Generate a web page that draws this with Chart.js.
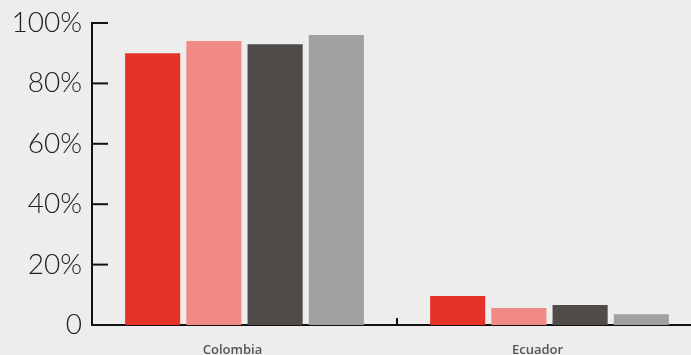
<!DOCTYPE html>
<html>
<head>
<meta charset="utf-8">
<script src="https://cdn.jsdelivr.net/npm/chart.js@4"></script>
<style>
  html, body { margin: 0; padding: 0; background: #ededed; overflow: hidden; }
  #wrap { position: relative; width: 702px; height: 355px; }
</style>
</head>
<body>
<div id="wrap"><canvas id="chart"></canvas></div>
<script>
// data
const categories = ['Colombia', 'Ecuador'];
const seriesA = [90, 9.6];
const seriesB = [94, 5.6];
const seriesC = [93, 6.6];
const seriesD = [96, 3.6];
const yTickLabels = ['0', '20%', '40%', '60%', '80%', '100%'];

const colors = ['#e5332a', '#f18a84', '#4f4b48', '#a2a09e'];

// tick marks that point inward, plus category separators on the x axis
const innerTicks = {
  id: 'innerTicks',
  afterDraw(chart) {
    const ctx = chart.ctx;
    const y = chart.scales.y;
    const x = chart.scales.x;
    const area = chart.chartArea;
    ctx.save();
    ctx.strokeStyle = '#111';
    ctx.lineWidth = 2;
    y.ticks.forEach(t => {
      const py = y.getPixelForValue(t.value);
      ctx.beginPath();
      ctx.moveTo(area.left, py);
      ctx.lineTo(area.left + 16, py);
      ctx.stroke();
    });
    const half = (x.getPixelForValue(1) - x.getPixelForValue(0)) / 2;
    for (let i = 0; i < categories.length; i++) {
      const px = Math.round(x.getPixelForValue(i) + half);
      ctx.beginPath();
      ctx.moveTo(px, area.bottom);
      ctx.lineTo(px, area.bottom - 7);
      ctx.stroke();
    }
    ctx.restore();
  }
};

new Chart(document.getElementById('chart'), {
  type: 'bar',
  data: {
    labels: categories,
    datasets: [
      { data: seriesA, backgroundColor: colors[0] },
      { data: seriesB, backgroundColor: colors[1] },
      { data: seriesC, backgroundColor: colors[2] },
      { data: seriesD, backgroundColor: colors[3] }
    ]
  },
  options: {
    responsive: true,
    maintainAspectRatio: false,
    animation: false,
    layout: { padding: { top: 23, right: 0, left: 0, bottom: 0 } },
    datasets: { bar: { categoryPercentage: 0.803, barPercentage: 0.9 } },
    plugins: { legend: { display: false }, tooltip: { enabled: false } },
    scales: {
      x: {
        grid: { display: false, drawTicks: false },
        border: { display: true, color: '#111', width: 2 },
        ticks: {
          color: '#555',
          font: { family: 'Open Sans', size: 13, weight: 600 },
          padding: 17,
          labelOffset: -12
        },
        afterFit(scale) { scale.height = 30; }
      },
      y: {
        min: 0,
        max: 100,
        grid: { display: false, drawTicks: false },
        border: { display: true, color: '#111', width: 2 },
        ticks: {
          stepSize: 20,
          color: '#222',
          padding: 10,
          font: { family: 'Lato', size: 28, weight: 300 },
          callback: (v, i) => yTickLabels[i]
        },
        afterFit(scale) {
          scale.width = 92;
          scale.paddingTop = 0;
          scale.paddingBottom = 0;
        }
      }
    }
  },
  plugins: [innerTicks]
});
</script>
</body>
</html>
